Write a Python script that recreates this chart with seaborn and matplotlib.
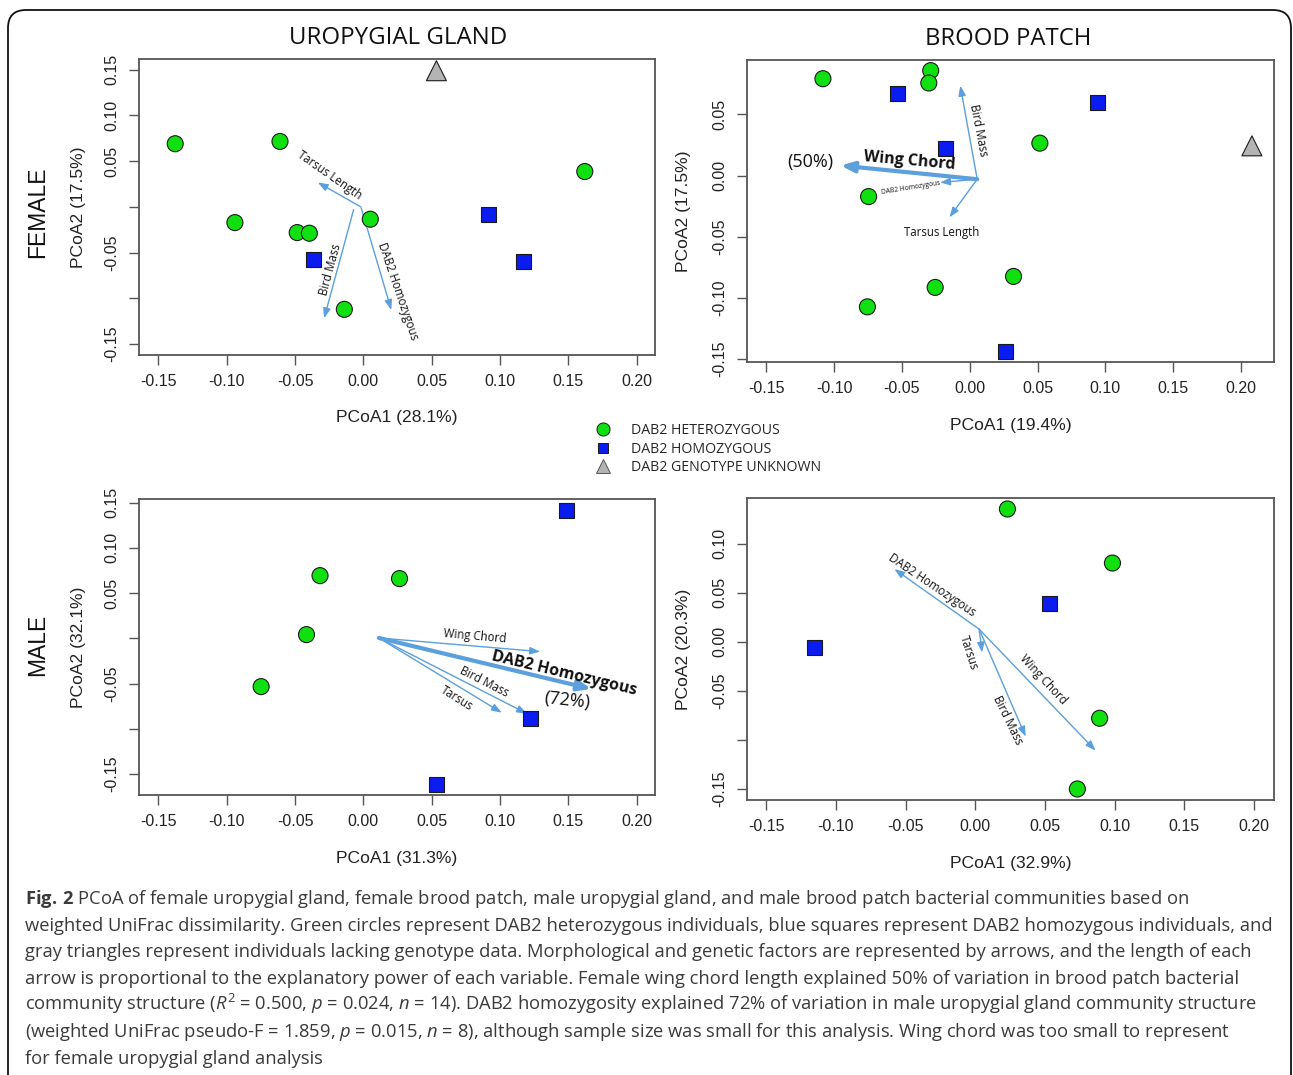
import matplotlib
matplotlib.use("Agg")
import matplotlib.pyplot as plt
import seaborn as sns
import pandas as pd
from matplotlib.lines import Line2D
from matplotlib.patches import FancyBboxPatch

# ---------------- data ----------------
x_ticks = [-0.15, -0.10, -0.05, 0.00, 0.05, 0.10, 0.15, 0.20]
x_tick_labels = ["-0.15", "-0.10", "-0.05", "0.00", "0.05", "0.10", "0.15", "0.20"]

ug_y_ticks = [-0.15, -0.10, -0.05, 0.00, 0.05, 0.10, 0.15]
ug_y_tick_labels = ["-0.15", "", "-0.05", "", "0.05", "0.10", "0.15"]
fbp_y_ticks = [-0.15, -0.10, -0.05, 0.00, 0.05]
fbp_y_tick_labels = ["-0.15", "-0.10", "-0.05", "0.00", "0.05"]
mbp_y_ticks = [-0.15, -0.10, -0.05, 0.00, 0.05, 0.10]
mbp_y_tick_labels = ["-0.15", "", "-0.05", "0.00", "0.05", "0.10"]

geno_names = ["DAB2 HETEROZYGOUS", "DAB2 HOMOZYGOUS", "DAB2 GENOTYPE UNKNOWN"]

# female uropygial gland
fug_x = [-0.1377, -0.0610, 0.1621, -0.0940, -0.0484, -0.0395, 0.0051, -0.0139,
         -0.0364, 0.0913, 0.1175, 0.0535]
fug_y = [0.0690, 0.0715, 0.0386, -0.0172, -0.0281, -0.0288, -0.0135, -0.1120,
         -0.0570, -0.0088, -0.0598, 0.1488]
fug_geno = ["het"] * 8 + ["hom"] * 3 + ["unk"]
fug_vec_names = ["Tarsus Length", "Bird Mass", "DAB2 Homozygous"]
fug_vec_x0 = [-0.0019, -0.0071, -0.0016]
fug_vec_y0 = [0.0000, -0.0030, -0.0010]
fug_vec_x1 = [-0.0333, -0.0287, 0.0205]
fug_vec_y1 = [0.0267, -0.1218, -0.1127]

# female brood patch
fbp_x = [-0.1083, -0.0288, -0.0302, 0.0517, -0.0746, 0.0323, -0.0255, -0.0755,
         -0.0532, 0.0940, -0.0180, 0.0267, 0.2081]
fbp_y = [0.0792, 0.0858, 0.0757, 0.0265, -0.0172, -0.0825, -0.0915, -0.1074,
         0.0675, 0.0601, 0.0221, -0.1437, 0.0243]
fbp_geno = ["het"] * 8 + ["hom"] * 4 + ["unk"]
fbp_vec_names = ["Wing Chord", "DAB2 Homozygous", "Bird Mass", "Tarsus Length"]
fbp_vec_x1 = [-0.0952, -0.0219, -0.0070, -0.0150]
fbp_vec_y1 = [0.0082, -0.0057, 0.0735, -0.0342]
fbp_origin = (0.0055, -0.0030)

# male uropygial gland
mug_x = [-0.0317, 0.0265, -0.0416, -0.0748, 0.1485, 0.1223, 0.0539]
mug_y = [0.0693, 0.0660, 0.0041, -0.0534, 0.1415, -0.0885, -0.1614]
mug_geno = ["het"] * 4 + ["hom"] * 3
mug_vec_names = ["Wing Chord", "DAB2 Homozygous", "Bird Mass", "Tarsus"]
mug_vec_x1 = [0.1294, 0.1669, 0.1198, 0.1013]
mug_vec_y1 = [-0.0147, -0.0560, -0.0833, -0.0822]
mug_origin = (0.0114, 0.0004)

# male brood patch
mbp_x = [0.0231, 0.0985, 0.0893, 0.0733, 0.0530, -0.1152]
mbp_y = [0.1352, 0.0802, -0.0778, -0.1498, 0.0387, -0.0058]
mbp_geno = ["het"] * 4 + ["hom"] * 2
mbp_vec_names = ["DAB2 Homozygous", "Tarsus", "Bird Mass", "Wing Chord"]
mbp_vec_x1 = [-0.0581, 0.0049, 0.0362, 0.0864]
mbp_vec_y1 = [0.0741, -0.0109, -0.0965, -0.1107]
mbp_origin = (0.0028, 0.0129)

caption_lines = [
    r"$\mathbf{Fig.\,2}$ PCoA of female uropygial gland, female brood patch, male uropygial gland, and male brood patch bacterial communities based on",
    "weighted UniFrac dissimilarity. Green circles represent DAB2 heterozygous individuals, blue squares represent DAB2 homozygous individuals, and",
    "gray triangles represent individuals lacking genotype data. Morphological and genetic factors are represented by arrows, and the length of each",
    "arrow is proportional to the explanatory power of each variable. Female wing chord length explained 50% of variation in brood patch bacterial",
    r"community structure ($\mathit{R}^2$ = 0.500, $\mathit{p}$ = 0.024, $\mathit{n}$ = 14). DAB2 homozygosity explained 72% of variation in male uropygial gland community structure",
    r"(weighted UniFrac pseudo-F = 1.859, $\mathit{p}$ = 0.015, $\mathit{n}$ = 8), although sample size was small for this analysis. Wing chord was too small to represent",
    "for female uropygial gland analysis",
]

# ---------------- style ----------------
sns.set_style("white")
plt.rcParams['font.family'] = ['Liberation Sans', 'DejaVu Sans']
plt.rcParams['mathtext.fontset'] = 'custom'
plt.rcParams['mathtext.rm'] = 'Open Sans'
plt.rcParams['mathtext.it'] = 'Open Sans:italic'
plt.rcParams['mathtext.bf'] = 'Open Sans:bold'

pal = {"het": "#10e010", "hom": "#0b1cf0", "unk": "#b4b4b4"}
mk = {"het": "o", "hom": "s", "unk": "^"}
msize = {"het": 133, "hom": 117, "unk": 207}
arrow_col = "#5b9fdc"
lab_font = "Open Sans"
W, H = 1293, 1075

fig = plt.figure(figsize=(W / 100, H / 100), dpi=100)


def px_axes(left, top, right, bottom):
    return fig.add_axes([left / W, 1 - bottom / H, (right - left) / W, (bottom - top) / H])


def draw_points(ax, xs, ys, geno):
    df = pd.DataFrame({"x": xs, "y": ys, "g": geno})
    sns.scatterplot(data=df, x="x", y="y", hue="g", style="g", size="g",
                    palette=pal, markers=mk, sizes=msize, edgecolor="#1a1a1a",
                    linewidth=0.8, legend=False, ax=ax, zorder=3)


def arrow(ax, x0, y0, x1, y1, thick=False):
    if thick:
        props = dict(arrowstyle="-|>,head_length=0.55,head_width=0.22", color=arrow_col,
                     lw=3.0, mutation_scale=14, shrinkA=0, shrinkB=0)
    else:
        props = dict(arrowstyle="-|>,head_length=0.6,head_width=0.22", color=arrow_col,
                     lw=1.0, mutation_scale=10, shrinkA=0, shrinkB=0)
    ax.annotate("", xy=(x1, y1), xytext=(x0, y0), arrowprops=props, zorder=2)


def style_axes(ax, xlim, ylim, yt, ytl, xlab, ylab, xlab_y, ylab_x):
    ax.set_xlim(*xlim)
    ax.set_ylim(*ylim)
    ax.set_xticks(x_ticks)
    ax.set_xticklabels(x_tick_labels)
    ax.set_yticks(yt)
    ax.set_yticklabels(ytl, rotation=90, va="center")
    ax.tick_params(axis="both", direction="out", length=7, width=1, color="#555555",
                   labelsize=11.5, labelcolor="#222222", pad=7)
    ax.tick_params(left=True, bottom=True)
    for s in ax.spines.values():
        s.set_color("#555555")
        s.set_linewidth(1.3)
    ax.set_xlabel(xlab, fontsize=12.6, color="#222222", va="center")
    ax.set_ylabel(ylab, fontsize=12.6, color="#222222", va="center")
    ax.xaxis.set_label_coords(0.5, xlab_y)
    ax.yaxis.set_label_coords(ylab_x, 0.5)


def vlabel(ax, x, y, s, rot, size=8.3, bold=False):
    ax.text(x, y, s, rotation=rot, ha="center", va="center", fontsize=size,
            family=lab_font, fontweight="bold" if bold else "normal",
            color="#111111", rotation_mode="anchor", zorder=4)


# ---- female uropygial gland ----
ax1 = px_axes(139, 59, 655, 355)
for i in range(len(fug_vec_names)):
    arrow(ax1, fug_vec_x0[i], fug_vec_y0[i], fug_vec_x1[i], fug_vec_y1[i])
draw_points(ax1, fug_x, fug_y, fug_geno)
style_axes(ax1, (-0.1642, 0.2135), (-0.1619, 0.1616), ug_y_ticks, ug_y_tick_labels,
           "PCoA1 (28.1%)", "PCoA2 (17.5%)", -0.21, -0.118)
vlabel(ax1, -0.0250, 0.0350, "Tarsus Length", -35)
vlabel(ax1, -0.0240, -0.0682, "Bird Mass", 75)
vlabel(ax1, 0.0252, -0.0926, "DAB2 Homozygous", -71)

# ---- female brood patch ----
ax2 = px_axes(747, 60, 1274, 362)
for i in range(len(fbp_vec_names)):
    arrow(ax2, fbp_origin[0], fbp_origin[1], fbp_vec_x1[i], fbp_vec_y1[i], thick=(i == 0))
draw_points(ax2, fbp_x, fbp_y, fbp_geno)
style_axes(ax2, (-0.1643, 0.2244), (-0.1525, 0.0945), fbp_y_ticks, fbp_y_tick_labels,
           "PCoA1 (19.4%)", "PCoA2 (17.5%)", -0.21, -0.121)
vlabel(ax2, -0.1175, 0.0107, "(50%)", 0, size=13)
vlabel(ax2, -0.0445, 0.0115, "Wing Chord", -5, size=11.5, bold=True)
vlabel(ax2, -0.0436, -0.0104, "DAB2 Homozygous", 9, size=4.8)
vlabel(ax2, 0.0064, 0.0374, "Bird Mass", -79)
vlabel(ax2, -0.0207, -0.0464, "Tarsus Length", 0)

# ---- male uropygial gland ----
ax3 = px_axes(139, 499, 655, 795)
for i in range(len(mug_vec_names)):
    arrow(ax3, mug_origin[0], mug_origin[1], mug_vec_x1[i], mug_vec_y1[i], thick=(i == 1))
draw_points(ax3, mug_x, mug_y, mug_geno)
style_axes(ax3, (-0.1642, 0.2135), (-0.1732, 0.1540), ug_y_ticks, ug_y_tick_labels,
           "PCoA1 (31.3%)", "PCoA2 (32.1%)", -0.213, -0.118)
vlabel(ax3, 0.0816, 0.0018, "Wing Chord", -5)
vlabel(ax3, 0.1469, -0.0394, "DAB2 Homozygous", -13.5, size=11.5, bold=True)
vlabel(ax3, 0.1494, -0.0682, "(72%)", -6, size=13)
vlabel(ax3, 0.0884, -0.0479, "Bird Mass", -27)
vlabel(ax3, 0.0684, -0.0663, "Tarsus", -32)

# ---- male brood patch ----
ax4 = px_axes(747, 498, 1274, 800)
for i in range(len(mbp_vec_names)):
    arrow(ax4, mbp_origin[0], mbp_origin[1], mbp_vec_x1[i], mbp_vec_y1[i])
draw_points(ax4, mbp_x, mbp_y, mbp_geno)
style_axes(ax4, (-0.1639, 0.2145), (-0.1610, 0.1464), mbp_y_ticks, mbp_y_tick_labels,
           "PCoA1 (32.9%)", "PCoA2 (20.3%)", -0.209, -0.121)
vlabel(ax4, -0.0311, 0.0581, "DAB2 Homozygous", -34)
vlabel(ax4, -0.0044, -0.0109, "Tarsus", -72)
vlabel(ax4, 0.0231, -0.0795, "Bird Mass", -64)
vlabel(ax4, 0.0487, -0.0387, "Wing Chord", -47)

# ---- titles and row labels ----
fig.text(398 / W, 1 - 38 / H, "UROPYGIAL GLAND", ha="center", va="center",
         fontsize=17.3, family=lab_font, color="#111111")
fig.text(1008 / W, 1 - 39 / H, "BROOD PATCH", ha="center", va="center",
         fontsize=17.2, family=lab_font, color="#111111")
fig.text(38 / W, 1 - 212 / H, "FEMALE", rotation=90, ha="center", va="center",
         fontsize=16.5, color="#111111")
fig.text(38 / W, 1 - 645 / H, "MALE", rotation=90, ha="center", va="center",
         fontsize=16.5, color="#111111")

# ---- legend ----
handles = [
    Line2D([], [], ls="none", marker="o", markersize=9.4, markerfacecolor=pal["het"],
           markeredgecolor="#1a1a1a", markeredgewidth=0.7),
    Line2D([], [], ls="none", marker="s", markersize=7.7, markerfacecolor=pal["hom"],
           markeredgecolor="#1a1a1a", markeredgewidth=0.7),
    Line2D([], [], ls="none", marker="^", markersize=10.5, markerfacecolor=pal["unk"],
           markeredgecolor="#555555", markeredgewidth=0.7),
]
fig.legend(handles, geno_names, loc="upper left", bbox_to_anchor=(594 / W, 1 - 423 / H),
           frameon=False, prop={"family": lab_font, "size": 10.2}, handlelength=1.2,
           handletextpad=1.4, labelspacing=0.25, borderpad=0, borderaxespad=0)

# ---- caption ----
for i, line in enumerate(caption_lines):
    fig.text(25 / W, 1 - (904 + i * 26.6) / H, line, ha="left", va="baseline",
             fontsize=13.2, family=lab_font, color="#3a3a3a")

# ---- frame ----
frame = FancyBboxPatch((0.08, -0.5), 12.83, 11.15,
                       boxstyle="round,pad=0,rounding_size=0.18",
                       transform=fig.dpi_scale_trans, fill=False,
                       edgecolor="#111111", lw=1.3)
fig.patches.append(frame)

fig.savefig("out.png", dpi=100)
